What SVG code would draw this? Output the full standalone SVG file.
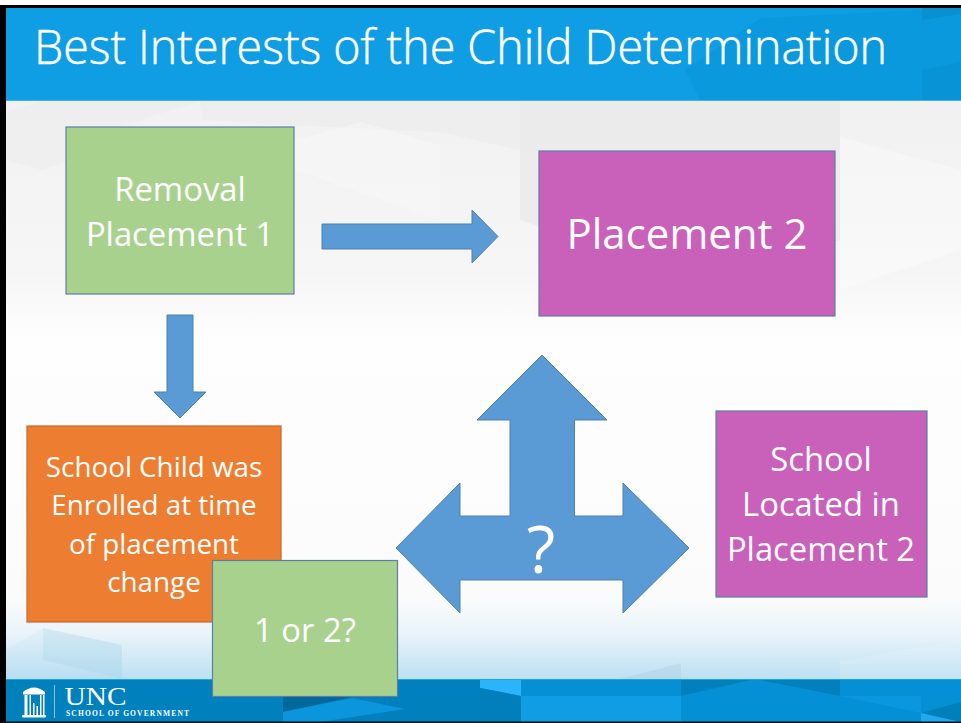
<svg xmlns="http://www.w3.org/2000/svg" width="961" height="723" viewBox="0 0 961 723">
<defs>
<linearGradient id="bg" x1="0" y1="0" x2="0" y2="1">
<stop offset="0" stop-color="#f1f1f1"/><stop offset="0.3" stop-color="#f6f6f6"/><stop offset="0.42" stop-color="#fefefe"/><stop offset="0.86" stop-color="#fbfbfb"/><stop offset="0.92" stop-color="#eaf4fa"/><stop offset="1" stop-color="#bce0f3"/>
</linearGradient>
</defs>
<style>
text{font-family:"Open Sans","Noto Sans","Liberation Sans",sans-serif;fill:#fff;text-anchor:middle}
.box{stroke:#5b7fa6;stroke-width:1.2}
.g{fill:#a9d18e}.p{fill:#c961bb}.o{fill:#ed7d31;stroke:#c9682a}
.arrow{fill:#5b9bd5;stroke:#4f81ad;stroke-width:1}
.t30{font-size:32.800px}.t27{font-size:27.800px}.t40{font-size:42px}
</style>
<rect width="961" height="723" fill="#fff"/>
<g id="background">
<rect x="6" y="100" width="955" height="579" fill="url(#bg)"/>
<path d="M43 101H200L122 126V140L43 170L6 160V112Z" fill="#ececec" opacity=".45"/>
<path d="M200 101H520V150L440 132L283 125L203 120Z" fill="#e8e8e8" opacity=".45"/>
<path d="M520 101H840V240L700 280L520 220Z" fill="#e6e6e6" opacity=".55"/>
<path d="M295 140L361 122L440 145V220L295 170Z" fill="#f8f8f8" opacity=".5"/>
<path d="M840 137L961 170V250L840 290Z" fill="#fff" opacity=".3"/>
<path d="M6 650L43 628L122 645V679H6Z" fill="#a8d4ec" opacity=".12"/>
<path d="M43 628L122 645V679L43 660Z" fill="#9ccbe4" opacity=".22"/>
<path d="M620 679L681 663V679Z" fill="#a9cbdd" opacity=".35"/>
<path d="M840 661L961 640V679H840Z" fill="#fff" opacity=".12"/>
</g>
<g id="header">
<rect x="6" y="8" width="955" height="92" fill="#0f9ee3"/>
<path d="M761 18L961 8V100H700L685 70Z" fill="#0b99dd"/>
<path d="M922 8H961V14L922 20Z" fill="#0890d0"/>
<path d="M922 70L961 62V100H922V90Z" fill="#0893d6"/>
<rect x="6" y="100" width="955" height="1" fill="#3fb2ea"/>
</g>
<g id="footer">
<rect x="6" y="679" width="955" height="43" fill="#0590d6"/>
<path d="M6 679H480V722H6Z" fill="#0080bd"/>
<path d="M283 697H352L283 712Z" fill="#00689c"/>
<path d="M283 712L352 698L405 709L320 722H283Z" fill="#0a95dc"/>
<path d="M480 679H521V696L480 688Z" fill="#29b4fb"/>
<path d="M480 688L521 696V722H480Z" fill="#007fbc"/>
<path d="M521 696L681 696V722H521Z" fill="#0f9ee3"/>
<path d="M681 679H755L681 696Z" fill="#0080bc"/>
<path d="M755 679H840V696Z" fill="#0080bc"/>
<path d="M840 696H921V713L840 696Z" fill="#0b97de"/>
<path d="M921 713L961 702V722H937Z" fill="#007fbb"/>
<path d="M921 713L961 722H921Z" fill="#1ea8f0"/>
<rect x="6" y="679" width="955" height="1" fill="#1ea6ea"/>
</g>
<rect id="frame-left" x="0" y="5" width="6" height="718" fill="#000"/>
<rect id="frame-top" x="0" y="5" width="961" height="3" fill="#000"/>
<rect id="frame-bottom" x="0" y="721.500" width="961" height="1.500" fill="#111"/>
<g id="title"><text x="460.500" y="64" font-size="48" font-weight="300" stroke="#fff" stroke-width=".5" textLength="853" lengthAdjust="spacingAndGlyphs">Best Interests of the Child Determination</text></g>
<g id="connectors">
<path class="arrow" d="M322 224H472V210L498 236.500L472 263V249H322Z"/>
<path class="arrow" d="M167 315H193V392H206L180 418L154 392H167Z"/>
<path class="arrow" d="M542 355L607 420H574.500V516H623V483L689 548L623 613V580H460V613L396 548L460 483V516H510V420H477Z"/>
<text x="541" y="573" font-size="66" id="arrow-label">?</text>
</g>
<g id="removal"><rect class="box g" x="66" y="127" width="228" height="167"/>
<text class="t30" x="180" y="201">Removal</text><text class="t30" x="180" y="246">Placement 1</text></g>
<g id="placement2"><rect class="box p" x="539" y="151" width="296" height="165"/>
<text class="t40" x="687" y="249">Placement 2</text></g>
<g id="school-enrolled"><rect class="box o" x="27" y="426" width="254" height="196"/>
<text class="t27" x="154" y="477">School Child was</text><text class="t27" x="154" y="515">Enrolled at time</text><text class="t27" x="154" y="554">of placement</text><text class="t27" x="154" y="592">change</text></g>
<g id="one-or-two"><rect class="box g" x="212.500" y="560.500" width="185" height="136"/>
<text class="t30" x="305" y="642">1 or 2?</text></g>
<g id="school-located"><rect class="box p" x="716" y="411" width="211" height="186"/>
<text class="t30" x="821" y="471">School</text><text class="t30" x="821" y="516">Located in</text><text class="t30" x="821" y="561">Placement 2</text></g>
<g id="logo">
<path d="M23 692Q34 683 45 692Z" fill="#fff"/>
<rect x="23" y="692" width="22" height="2.500" fill="#fff"/>
<path d="M24.500 695h3v20h-3zM29.500 695h1.500v20h-1.500zM33 703h1.500v12h-1.500zM36.500 706h1.500v9h-1.500zM40 695h1.500v20h-1.500zM43 695h1.500v20h-1.500z" fill="#fff"/>
<rect x="22" y="715" width="24" height="2.500" rx="1" fill="#fff"/>
<rect x="54" y="685" width="1" height="33" fill="#8cc4e4"/>
<text x="95.500" y="705" font-size="26" textLength="62" lengthAdjust="spacingAndGlyphs" style="font-family:'Liberation Serif',serif">UNC</text>
<text x="127.500" y="716" font-size="7.500" font-weight="700" textLength="123" style="font-family:'Liberation Serif',serif">SCHOOL OF GOVERNMENT</text>
</g>
</svg>
